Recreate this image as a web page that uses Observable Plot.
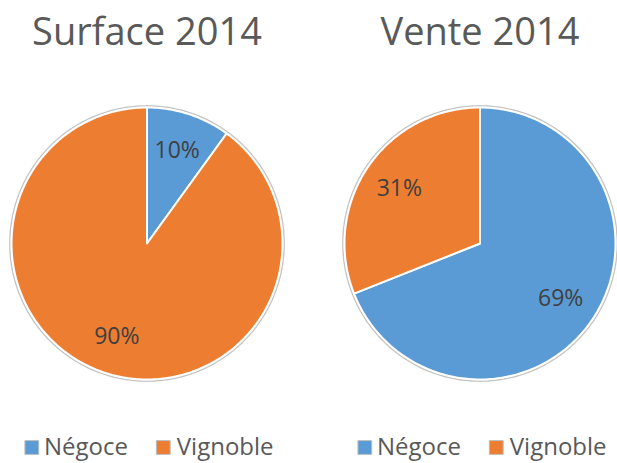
<!DOCTYPE html>
<html>
<head>
<meta charset="utf-8">
<script src="https://cdn.jsdelivr.net/npm/d3@7"></script>
<script src="https://cdn.jsdelivr.net/npm/@observablehq/plot@0.6"></script>
<style>
  html, body { margin: 0; padding: 0; background: #fff; }
</style>
</head>
<body>
<div id="chart"></div>
<script>
const charts = ["Surface 2014", "Vente 2014"];
const categories = ["Négoce", "Vignoble"];
const surfaceValues = [10, 90];
const venteValues = [69, 31];
const colors = ["#5B9BD5", "#ED7D31"];

const series = [surfaceValues, venteValues];

// Build slice polygons (clockwise from 12 o'clock) in unit-radius coordinates
const slicePts = [];
const labels = [];
const outline = [];
charts.forEach((chart, i) => {
  const vals = series[i];
  const total = d3.sum(vals);
  let a = 0;
  vals.forEach((v, j) => {
    const a0 = a, a1 = a + (v / total) * 2 * Math.PI;
    const key = chart + "|" + categories[j];
    slicePts.push({chart, category: categories[j], slice: key, x: 0, y: 0});
    const n = Math.max(2, Math.ceil((a1 - a0) / (Math.PI / 180)));
    for (let k = 0; k <= n; k++) {
      const t = a0 + (a1 - a0) * k / n;
      slicePts.push({chart, category: categories[j], slice: key, x: Math.sin(t), y: Math.cos(t)});
    }
    const m = (a0 + a1) / 2;
    labels.push({chart, text: Math.round(v / total * 100) + "%", x: 0.72 * Math.sin(m), y: 0.72 * Math.cos(m)});
    a = a1;
  });
  for (let k = 0; k <= 360; k++) {
    const t = k * Math.PI / 180;
    outline.push({chart, x: 1.012 * Math.sin(t), y: 1.012 * Math.cos(t)});
  }
});

const legendItems = [];
charts.forEach(chart => categories.forEach((c, j) => legendItems.push({chart, category: c, j})));

const plot = Plot.plot({
  width: 617,
  height: 463,
  marginLeft: 10,
  marginRight: 1,
  marginTop: 107,
  marginBottom: 84,
  style: {fontFamily: "'Open Sans', sans-serif", background: "#fff"},
  fx: {domain: charts, paddingInner: 0.1856, paddingOuter: 0, axis: null},
  x: {domain: [-1, 1], axis: null},
  y: {domain: [-1, 1], axis: null},
  color: {domain: categories, range: colors},
  marks: [
    Plot.line(outline, {fx: "chart", x: "x", y: "y", stroke: "#c4c4c4", strokeWidth: 1.5, curve: "linear-closed"}),
    Plot.line(slicePts, {fx: "chart", x: "x", y: "y", z: "slice", fill: "category", stroke: "white", strokeWidth: 2, curve: "linear-closed"}),
    Plot.text(labels, {fx: "chart", x: "x", y: "y", text: "text", fontSize: 23, fill: "#404040"}),
    Plot.text(charts, {fx: d => d, x: () => 0, y: () => 1.55, text: d => d, fontSize: 38, fill: "#595959"}),
    Plot.dot(legendItems, {fx: "chart", x: d => d.j === 0 ? -0.85 : 0.12, y: () => -1.5, fill: "category", symbol: "square", r: 7.8, stroke: "#bdbdbd", strokeWidth: 1}),
    Plot.text(legendItems, {fx: "chart", x: d => d.j === 0 ? -0.76 : 0.22, y: () => -1.5, text: "category", textAnchor: "start", fontSize: 24, fill: "#595959"})
  ]
});
document.getElementById("chart").appendChild(plot);
</script>
</body>
</html>
